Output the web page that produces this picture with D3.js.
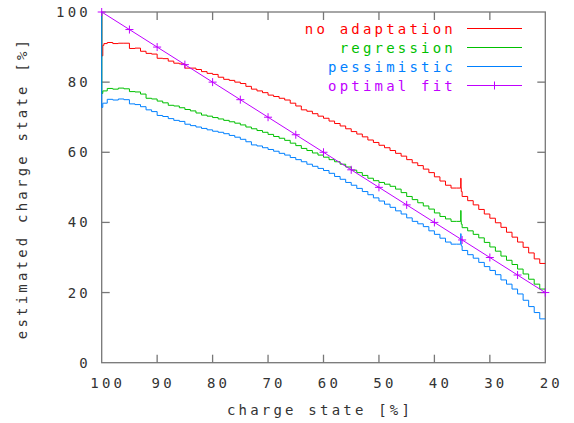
<!DOCTYPE html>
<html>
<head>
<meta charset="utf-8">
<script src="https://cdn.jsdelivr.net/npm/d3@7"></script>
<style>
  body { margin: 0; background: #fff; }
  svg { display: block; }
  text { font-family: "DejaVu Sans Mono", monospace; font-size: 14px; letter-spacing: 3.2px; fill: #333; }
</style>
</head>
<body>
<svg id="chart" width="574" height="423"></svg>
<script>
// ---- data ----
const xTicks = [100, 90, 80, 70, 60, 50, 40, 30, 20];
const yTicks = [0, 20, 40, 60, 80, 100];

// charge state sample positions (x, percent)
const chargeStart = [100, 99.8, 99.6];
const chargeGrid = [99,98,97,96,95,94,93,92,91,90,89,88,87,86,85,84,83,82,81,80,
  79,78,77,76,75,74,73,72,71,70,69,68,67,66,65,64,63,62,61,60,
  59,58,57,56,55,54,53,52,51,50,49,48,47,46,45,44,43,42,41,40,
  39,38,37,36,35,34,33,32,31,30,29,28,27,26,25,24,23,22,21,20];

const noAdaptStart = [100, 87.5, 90.5];
const noAdaptation = [91.0,91.3,91.0,91.1,91.1,89.6,89.7,88.8,88.2,88.0,86.8,86.7,86.0,85.4,85.2,84.0,84.0,83.6,83.0,82.5,
  82.2,81.4,80.8,80.5,80.0,79.6,78.8,78.0,77.5,77.0,76.3,75.9,75.4,74.9,74.0,73.2,72.1,71.7,71.0,70.3,
  69.7,68.9,68.2,67.5,66.7,65.9,65.2,64.4,63.5,62.8,62.0,61.3,60.5,59.7,58.9,57.9,57.0,56.2,55.2,54.2,
  53.0,51.8,50.6,49.8,48.8,47.4,46.2,45.0,43.7,42.4,41.2,39.9,38.6,37.2,35.8,34.4,32.9,31.3,29.6,28.3];

const regressionStart = [100, 76.8, 77.5];
const regression = [77.5,78.2,78.0,78.3,78.1,77.3,77.2,76.6,75.4,75.2,74.6,74.1,73.4,73.2,72.7,72.2,71.8,71.2,70.6,70.3,
  69.9,69.5,69.1,68.7,68.3,67.8,67.2,66.7,66.2,65.7,65.1,64.5,64.0,63.4,62.6,61.9,61.1,60.5,59.8,59.2,
  58.6,57.9,57.3,56.6,55.8,54.9,54.2,53.4,52.6,51.9,51.4,50.9,50.3,49.5,48.5,47.4,46.5,45.6,44.7,43.8,
  42.7,41.7,41.0,40.3,39.5,38.5,37.6,36.6,35.6,34.3,33.0,31.8,30.4,29.2,28.0,26.7,25.3,23.8,22.4,21.0];

const pessimisticStart = [100, 72.8, 74.0];
const pessimistic = [74.0,75.1,74.9,75.2,75.0,73.8,73.6,73.0,72.1,71.6,70.5,70.2,69.6,69.1,68.8,68.0,67.6,67.2,66.8,66.4,
  66.0,65.7,65.3,64.8,64.3,63.7,63.0,62.1,61.8,61.3,60.8,60.3,59.7,59.2,58.5,57.9,57.3,56.6,56.0,55.4,
  54.8,54.0,53.1,52.3,51.4,50.6,49.7,48.8,47.9,47.0,46.1,45.2,44.3,43.3,42.4,41.3,40.3,39.6,38.8,37.6,
  36.6,35.5,34.4,33.8,33.3,32.0,30.8,29.8,28.6,27.4,26.3,25.1,23.6,22.4,21.0,19.6,17.8,16.0,14.3,12.5];

// spike near 35 %
const spikeCharge = 35.2;
const spikeValues = [52.6, 43.4, 36.8];

// optimal fit points
const fitCharge = [100,95,90,85,80,75,70,65,60,55,50,45,40,35,30,25,20];
const fitValue  = [100,95,90,85,80,75,70,65,60,55,50,45,40,35,30,25,20];

const seriesNames = ["no adaptation", "regression", "pessimistic", "optimal fit"];
const seriesColors = ["#ff0000", "#00c000", "#0080ff", "#c000ff"];

// ---- chart ----
const svg = d3.select("#chart");
const mLeft = 101.7, mRight = 545.3, mTop = 12, mBottom = 362.7;

const x = d3.scaleLinear().domain([100, 20]).range([mLeft, mRight]);
const y = d3.scaleLinear().domain([0, 100]).range([mBottom, mTop]);

function buildSeries(start, vals, spikeV) {
  const pts = chargeStart.map((c, i) => [c, start[i]]);
  chargeGrid.forEach((c, i) => {
    if (c === 35) {
      const prev = vals[i - 1];
      pts.push([spikeCharge + 0.05, prev]);
      pts.push([spikeCharge, spikeV]);
      pts.push([spikeCharge - 0.05, prev]);
    }
    pts.push([c, vals[i]]);
  });
  return pts;
}

const data = [
  buildSeries(noAdaptStart, noAdaptation, spikeValues[0]),
  buildSeries(regressionStart, regression, spikeValues[1]),
  buildSeries(pessimisticStart, pessimistic, spikeValues[2])
];

const line = d3.line().x(d => x(d[0])).y(d => y(d[1])).curve(d3.curveStepBefore);
const fitLine = d3.line().x(d => x(d[0])).y(d => y(d[1]));

// frame and ticks
const axisColor = "#777";
svg.append("rect").attr("x", mLeft).attr("y", mTop)
  .attr("width", mRight - mLeft).attr("height", mBottom - mTop)
  .attr("fill", "none").attr("stroke", axisColor).attr("stroke-width", 1.3);

const tickLen = 8;
xTicks.forEach(t => {
  if (t !== 100 && t !== 20) {
    svg.append("line").attr("x1", x(t)).attr("x2", x(t)).attr("y1", mBottom).attr("y2", mBottom - tickLen)
      .attr("stroke", axisColor).attr("stroke-width", 1.3);
    svg.append("line").attr("x1", x(t)).attr("x2", x(t)).attr("y1", mTop).attr("y2", mTop + tickLen)
      .attr("stroke", axisColor).attr("stroke-width", 1.3);
  }
  svg.append("text").attr("x", x(t) + 6).attr("y", 388).attr("text-anchor", "middle").text(t);
});
yTicks.forEach(t => {
  if (t !== 0 && t !== 100) {
    svg.append("line").attr("x1", mLeft).attr("x2", mLeft + tickLen).attr("y1", y(t)).attr("y2", y(t))
      .attr("stroke", axisColor).attr("stroke-width", 1.3);
    svg.append("line").attr("x1", mRight).attr("x2", mRight - tickLen).attr("y1", y(t)).attr("y2", y(t))
      .attr("stroke", axisColor).attr("stroke-width", 1.3);
  }
  svg.append("text").attr("x", 91).attr("y", y(t)).attr("dy", "0.36em").attr("text-anchor", "end").text(t);
});

// axis titles
svg.append("text").attr("x", 320).attr("y", 415).attr("text-anchor", "middle").text("charge state [%]");
svg.append("text").attr("transform", "translate(27,188) rotate(-90)").attr("text-anchor", "middle")
  .text("estimated charge state [%]");

// series
data.forEach((d, i) => {
  svg.append("path").attr("d", line(d)).attr("fill", "none")
    .attr("stroke", seriesColors[i]).attr("stroke-width", 1);
});
const fitPts = fitCharge.map((c, i) => [c, fitValue[i]]);
svg.append("path").attr("d", fitLine(fitPts)).attr("fill", "none")
  .attr("stroke", seriesColors[3]).attr("stroke-width", 1);
const ms = 4;
fitPts.forEach(p => {
  const px = x(p[0]), py = y(p[1]);
  svg.append("path").attr("d", `M${px - ms},${py}H${px + ms}M${px},${py - ms}V${py + ms}`)
    .attr("stroke", seriesColors[3]).attr("stroke-width", 1);
});

// legend
const legY = [28.5, 47.5, 66.5, 85.5];
seriesNames.forEach((name, i) => {
  svg.append("text").attr("x", 456).attr("y", legY[i]).attr("dy", "0.36em")
    .attr("text-anchor", "end").style("fill", seriesColors[i]).text(name);
  svg.append("line").attr("x1", 467).attr("x2", 522).attr("y1", legY[i]).attr("y2", legY[i])
    .attr("stroke", seriesColors[i]).attr("stroke-width", 1);
});
svg.append("path").attr("d", `M494.5,${legY[3] - ms}V${legY[3] + ms}`)
  .attr("stroke", seriesColors[3]).attr("stroke-width", 1);
</script>
</body>
</html>
